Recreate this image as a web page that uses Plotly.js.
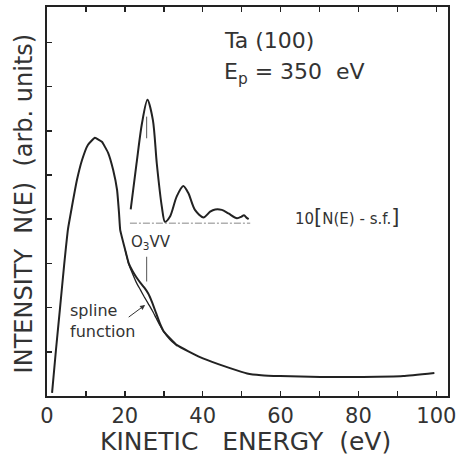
<!DOCTYPE html>
<html>
<head>
<meta charset="utf-8">
<script src="https://cdn.plot.ly/plotly-3.0.1.min.js"></script>
<style>html,body{margin:0;padding:0;background:#fff;}#chart{width:459px;height:458px;}</style>
</head>
<body>
<div id="chart"></div>
<script>
// N(E) measured spectrum
const energyMain = [1.3, 2.3, 3.3, 4.4, 5.4, 6.4, 7.7, 9.0, 10.5, 12.3, 14.1, 15.7, 17.0, 18.0, 18.5, 18.8, 20.1, 21.0, 22.0, 23.0, 24.0, 25.0, 26.0, 27.0, 28.0, 29.0, 30.0, 33.4, 39.3, 44.0, 47.0, 51.4, 55.0, 59.9, 70.2, 81.2, 91.5, 99.5];
const intensityMain = [0.07, 1.04, 1.95, 2.96, 3.78, 4.28, 4.89, 5.34, 5.68, 5.84, 5.75, 5.50, 5.11, 4.66, 4.14, 3.76, 3.30, 3.00, 2.82, 2.68, 2.56, 2.45, 2.32, 2.12, 1.88, 1.64, 1.46, 1.15, 0.88, 0.72, 0.63, 0.51, 0.47, 0.45, 0.43, 0.43, 0.45, 0.52];
// spline function (smooth background) where it departs from N(E)
const energySpline = [20.1, 21.0, 22.0, 23.0, 24.0, 25.0, 26.0, 27.0, 28.0, 29.0, 30.0, 31.5, 33.4];
const intensitySpline = [3.30, 2.98, 2.76, 2.56, 2.40, 2.24, 2.09, 1.94, 1.77, 1.60, 1.45, 1.28, 1.13];
// 10[N(E) - s.f.] difference spectrum (offset inset)
const energyDiff = [21.5, 23.0, 24.4, 25.8, 27.2, 28.2, 29.5, 30.3, 31.6, 33.3, 35.0, 36.3, 38.0, 40.2, 41.9, 43.2, 44.9, 46.6, 48.8, 50.0, 50.6, 51.3, 51.8];
const intensityDiff = [4.22, 5.26, 6.17, 6.70, 6.24, 5.26, 4.28, 3.94, 4.06, 4.51, 4.75, 4.59, 4.21, 4.04, 4.17, 4.22, 4.21, 4.13, 4.02, 4.06, 4.09, 4.03, 4.00];
const diffBaselineE = [21.3, 52.2];
const diffBaselineY = [3.91, 3.91];
// O3VV position markers
const o3vvEnergy = 25.6;
const peakMarkY = [5.83, 6.32];
const o3vvMarkY = [2.59, 3.15];
// x-axis ticks
const xTickVals = [0, 20, 40, 60, 80, 100];
const xTickText = ['0', '20', '40', '60', '80', '100'];

const ink = '#222';
const fontFam = 'DejaVu Sans, sans-serif';

const traces = [
  {x: energyMain, y: intensityMain, mode: 'lines', line: {color: ink, width: 2, shape: 'spline', smoothing: 0.35}, hoverinfo: 'skip'},
  {x: energySpline, y: intensitySpline, mode: 'lines', line: {color: ink, width: 1.3, shape: 'spline', smoothing: 0.6}, hoverinfo: 'skip'},
  {x: diffBaselineE, y: diffBaselineY, mode: 'lines', line: {color: '#888', width: 1, dash: '7px,2px,2px,2px'}, hoverinfo: 'skip'},
  {x: energyDiff, y: intensityDiff, mode: 'lines', line: {color: ink, width: 2, shape: 'spline', smoothing: 0.8}, hoverinfo: 'skip'},
  {x: [o3vvEnergy, o3vvEnergy], y: peakMarkY, mode: 'lines', line: {color: '#555', width: 1}, hoverinfo: 'skip'},
  {x: [o3vvEnergy, o3vvEnergy], y: o3vvMarkY, mode: 'lines', line: {color: '#555', width: 1}, hoverinfo: 'skip'}
];

const layout = {
  width: 459, height: 458,
  margin: {l: 47, r: 11, t: 7, b: 62},
  paper_bgcolor: '#fff', plot_bgcolor: '#fff',
  showlegend: false,
  font: {family: fontFam, color: ink},
  xaxis: {
    range: [0, 103], tickvals: xTickVals, ticktext: xTickText,
    ticks: 'inside', ticklen: 5, tickwidth: 1.5, tickcolor: ink,
    minor: {dtick: 10, tick0: 0, ticks: 'inside', ticklen: 5, tickwidth: 1.5, tickcolor: ink, showgrid: false},
    showline: true, linecolor: ink, linewidth: 2, mirror: 'ticks',
    showgrid: false, zeroline: false,
    tickfont: {size: 21, color: '#333', family: fontFam}
  },
  yaxis: {
    range: [0, 8.8], dtick: 1, tick0: 0,
    ticks: 'inside', ticklen: 5, tickwidth: 1.5, tickcolor: ink,
    showticklabels: false,
    showline: true, linecolor: ink, linewidth: 2, mirror: true,
    showgrid: false, zeroline: false
  },
  annotations: [
    {xref: 'paper', yref: 'paper', x: 0.495, y: -0.118, yanchor: 'middle', xanchor: 'center', showarrow: false,
     text: 'KINETIC\u00a0\u00a0\u00a0ENERGY\u00a0\u00a0(eV)', font: {size: 25, color: '#333'}},
    {xref: 'paper', yref: 'paper', x: -0.055, y: 0.495, xanchor: 'center', yanchor: 'middle', showarrow: false, textangle: -90,
     text: 'INTENSITY\u00a0\u00a0N(E)\u00a0\u00a0(arb.\u00a0units)', font: {size: 24, color: '#333'}},
    {x: 45.0, y: 8.05, xanchor: 'left', yanchor: 'middle', showarrow: false, text: 'Ta (100)', font: {size: 22, color: '#333'}},
    {x: 45.0, y: 7.3, xanchor: 'left', yanchor: 'middle', showarrow: false, text: 'E<sub>p</sub> = 350\u00a0\u00a0eV', font: {size: 22, color: '#333'}},
    {x: 63.3, y: 4.05, xanchor: 'left', yanchor: 'middle', showarrow: false,
     text: '10<span style="font-size:21px">[</span>N(E) - s.f.<span style="font-size:21px">]</span>', font: {size: 15, color: '#333'}},
    {x: 21.1, y: 3.48, xanchor: 'left', yanchor: 'middle', showarrow: false, text: 'O<sub>3</sub>VV', font: {size: 15, color: '#333'}},
    {x: 5.4, y: 1.70, xanchor: 'left', yanchor: 'middle', align: 'left', showarrow: false, text: 'spline<br>function', font: {size: 16, color: '#333'}},
    {x: 25.2, y: 2.06, ax: 20.6, ay: 1.76, axref: 'x', ayref: 'y', showarrow: true, arrowhead: 2, arrowsize: 1, arrowwidth: 1, arrowcolor: '#333', text: ''}
  ]
};

Plotly.newPlot('chart', traces, layout, {staticPlot: true, displayModeBar: false});
</script>
</body>
</html>
